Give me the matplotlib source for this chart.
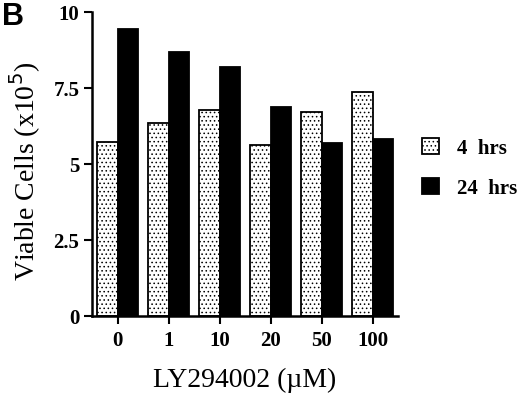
import matplotlib
matplotlib.use("Agg")
import matplotlib.pyplot as plt
import numpy as np

# %%
doses = ["0", "1", "10", "20", "50", "100"]
cells_4h = [5.72, 6.36, 6.78, 5.62, 6.72, 7.37]
cells_24h = [9.43, 8.67, 8.20, 6.89, 5.70, 5.82]
yticks = [0, 2.5, 5, 7.5, 10]
ytick_labels = ["0", "2.5", "5", "7.5", "10"]

# %%
plt.rcParams["font.family"] = ["Liberation Serif", "DejaVu Serif"]
plt.rcParams["hatch.linewidth"] = 0.6
plt.rcParams["hatch.color"] = "#222222"

fig = plt.figure(figsize=(5.2, 3.98), dpi=100)
ax = fig.add_axes([92 / 520, 1 - 316 / 398, (398 - 92) / 520, (316 - 12) / 398])

x = np.arange(len(doses))
w = 0.4
ax.bar(x - w / 2, cells_4h, w, facecolor="white", edgecolor="black",
       linewidth=1.3, hatch="....", label="4  hrs")
ax.bar(x + w / 2, cells_24h, w, facecolor="black", edgecolor="black",
       linewidth=1.3, label="24  hrs")

ax.set_xlim(-0.5, 5.5)
ax.set_ylim(0, 10)
ax.set_yticks(yticks)
ax.set_yticklabels(ytick_labels, fontsize=15, fontweight="bold")
ax.set_xticks(x)
ax.set_xticklabels(doses, fontsize=15, fontweight="bold")
ax.tick_params(direction="out", length=6, width=1.5, pad=3)
ax.tick_params(axis="x", pad=5)
for s in ["top", "right"]:
    ax.spines[s].set_visible(False)
for s in ["left", "bottom"]:
    ax.spines[s].set_linewidth(1.8)

ax.set_xlabel("LY294002 (\u00b5M)", fontsize=20, labelpad=12)
ax.set_ylabel("Viable Cells (x10$^{5}$)", fontsize=20)
ax.yaxis.set_label_coords(-0.16, 0.475)

leg = ax.legend(loc="center left", bbox_to_anchor=(422 / 520, 1 - 168.5 / 398),
                bbox_transform=fig.transFigure, frameon=False, borderpad=0,
                borderaxespad=0, prop={"size": 15, "weight": "bold"},
                handlelength=0.8, handleheight=0.8, handletextpad=0.9,
                labelspacing=0.95)

fig.text(0.004, 0.995, "B", fontsize=22, fontweight="bold", family="Liberation Sans",
         va="top", ha="left")

fig.savefig("out.png", dpi=100)
